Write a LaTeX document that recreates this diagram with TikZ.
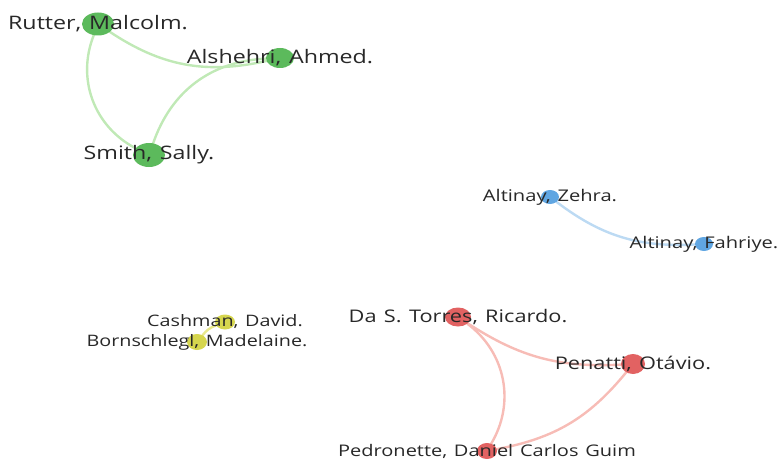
\documentclass[tikz,border=0pt]{standalone}
\usepackage{fontspec}
\setmainfont{Open Sans}[FakeStretch=1.25,WordSpace=1.3]
\usetikzlibrary{shapes.geometric}
\pgfdeclarelayer{background}
\pgfsetlayers{background,main}
\definecolor{grn}{RGB}{92,186,92}
\definecolor{grnlink}{RGB}{192,233,182}
\definecolor{blu}{RGB}{96,166,226}
\definecolor{blulink}{RGB}{188,218,243}
\definecolor{ylw}{RGB}{214,214,78}
\definecolor{ylwlink}{RGB}{232,232,140}
\definecolor{rd}{RGB}{226,98,98}
\definecolor{rdlink}{RGB}{247,188,182}
\definecolor{lbl}{RGB}{40,40,40}

\begin{document}
\begin{tikzpicture}[x=1pt,y=1pt,
    author/.style={ellipse,inner sep=0pt,draw=none},
    authorname/.style={text=lbl,inner sep=0pt},
    link/.style={line width=2.4pt,line cap=round}
  ]
    \useasboundingbox (0,0) rectangle (780,-460);
    % cluster 1
    \node[author,fill=grn,minimum width=32,minimum height=23] (rutter) at (98,-24) {};
    \node[author,fill=grn,minimum width=28,minimum height=20] (alshehri) at (280,-58) {};
    \node[author,fill=grn,minimum width=32,minimum height=24] (smith) at (149,-155) {};
    % cluster 2
    \node[author,fill=blu,minimum width=18,minimum height=14] (zehra) at (550,-197) {};
    \node[author,fill=blu,minimum width=18,minimum height=14] (fahriye) at (704,-244) {};
    % cluster 3
    \node[author,fill=ylw,minimum width=20,minimum height=15] (cashman) at (225,-322) {};
    \node[author,fill=ylw,minimum width=20,minimum height=16] (bornschlegl) at (197,-342) {};
    % cluster 4
    \node[author,fill=rd,minimum width=26,minimum height=19] (torres) at (458,-317) {};
    \node[author,fill=rd,minimum width=24,minimum height=20] (penatti) at (633,-364) {};
    \node[author,fill=rd,minimum width=20,minimum height=16] (pedronette) at (487,-451) {};

    \begin{pgfonlayer}{background}
      \draw[link,grnlink] (rutter) to[bend right=23] (alshehri);
      \draw[link,grnlink] (rutter) to[bend right=42] (smith);
      \draw[link,grnlink] (alshehri) to[bend right=34] (smith);
      \draw[link,blulink] (zehra) to[bend right=20] (fahriye);
      \draw[link,ylwlink] (cashman) to[bend right=15] (bornschlegl);
      \draw[link,rdlink] (torres) to[bend right=18] (penatti);
      \draw[link,rdlink] (torres) to[bend left=42] (pedronette);
      \draw[link,rdlink] (penatti) to[bend left=20] (pedronette);
    \end{pgfonlayer}

    % names on top of the circles
    \node[authorname,font=\fontsize{18.6}{21}\selectfont] (rutterlbl) at (rutter) {Rutter, Malcolm.};
    \node[authorname,font=\fontsize{18.6}{21}\selectfont] (alshehrilbl) at (alshehri) {Alshehri, Ahmed.};
    \node[authorname,font=\fontsize{18.6}{21}\selectfont] (smithlbl) at (smith) {Smith, Sally.};
    \node[authorname,font=\fontsize{16.1}{18}\selectfont] (zehralbl) at (zehra) {Altinay, Zehra.};
    \node[authorname,font=\fontsize{16.1}{18}\selectfont] (fahriyelbl) at (fahriye) {Altinay, Fahriye.};
    \node[authorname,font=\fontsize{15.8}{18}\selectfont] (cashmanlbl) at (cashman) {Cashman, David.};
    \node[authorname,font=\fontsize{15.8}{18}\selectfont] (bornschlegllbl) at (bornschlegl) {Bornschlegl, Madelaine.};
    \node[authorname,font=\fontsize{17.4}{20}\selectfont] (torreslbl) at (torres) {Da S. Torres, Ricardo.};
    \node[authorname,font=\fontsize{17.4}{20}\selectfont] (penattilbl) at (penatti) {Penatti, Otávio.};
    \node[authorname,font=\fontsize{16}{18}\selectfont] (pedronettelbl) at (pedronette) {Pedronette, Daniel Carlos Guim};
\end{tikzpicture}
\end{document}
